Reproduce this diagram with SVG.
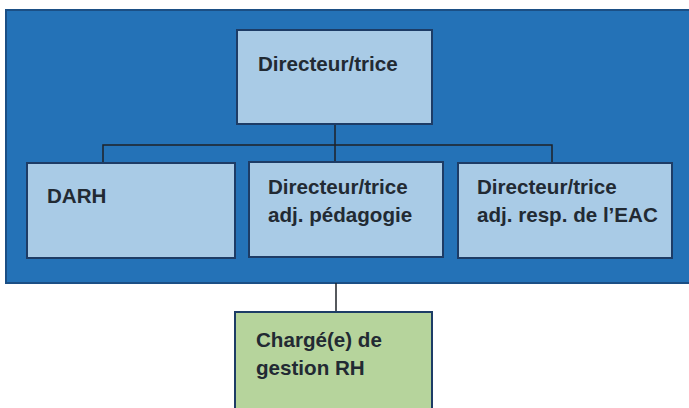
<svg xmlns="http://www.w3.org/2000/svg" width="689" height="408" viewBox="0 0 689 408">
  <style>
    .box { fill: #a9cbe6; stroke: #1d3c66; stroke-width: 2; }
    .green { fill: #b6d49c; stroke: #1d3c66; stroke-width: 2; }
    .lbl { font-family: "Liberation Sans", Arial, sans-serif; font-weight: bold; font-size: 20.6px; fill: #222a33; }
    .conn { fill: none; stroke: #1e2228; stroke-width: 1.5; }
  </style>
  <rect x="0" y="0" width="689" height="408" fill="#ffffff"/>
  <rect id="background" x="6" y="10" width="690" height="273" fill="#2472b7" stroke="#1b4f85" stroke-width="2"/>
  <g id="connectors">
    <path class="conn" d="M335 124 V145"/>
    <path class="conn" d="M103 162 V145 H552 V163"/>
    <path class="conn" d="M335 145 V162"/>
    <path class="conn" d="M336 283 V312"/>
  </g>
  <g id="node-directeur">
    <rect class="box" x="237" y="30" width="195" height="94"/>
    <text class="lbl" x="258" y="71">Directeur/trice</text>
  </g>
  <g id="node-darh">
    <rect class="box" x="27" y="163" width="208" height="95"/>
    <text class="lbl" x="47" y="203">DARH</text>
  </g>
  <g id="node-pedagogie">
    <rect class="box" x="249" y="162" width="194" height="95"/>
    <text class="lbl" x="268" y="194">Directeur/trice</text>
    <text class="lbl" x="268" y="222">adj. pédagogie</text>
  </g>
  <g id="node-eac">
    <rect class="box" x="458" y="163" width="214" height="95"/>
    <text class="lbl" x="477" y="194">Directeur/trice</text>
    <text class="lbl" x="477" y="222">adj. resp. de l’EAC</text>
  </g>
  <g id="node-rh">
    <rect class="green" x="235" y="312" width="197" height="110"/>
    <text class="lbl" x="256" y="347">Chargé(e) de</text>
    <text class="lbl" x="256" y="375">gestion RH</text>
  </g>
</svg>
